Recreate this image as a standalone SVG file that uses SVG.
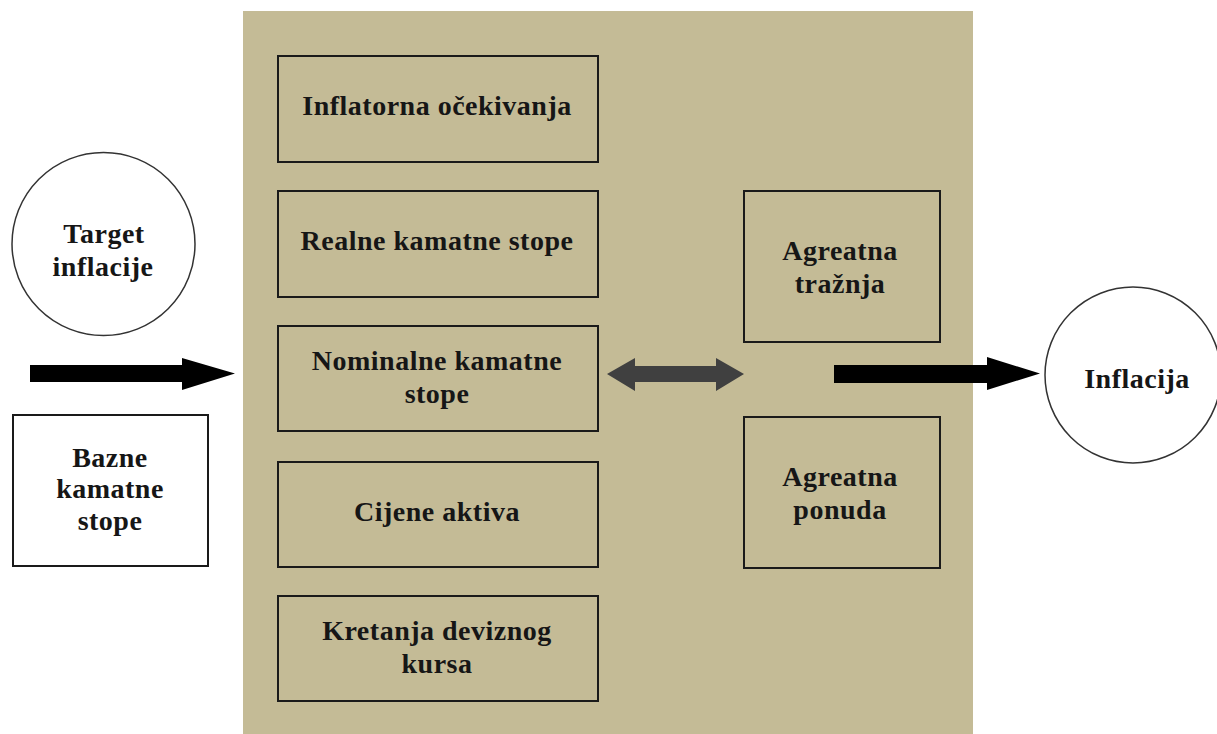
<svg xmlns="http://www.w3.org/2000/svg" width="1217" height="734" viewBox="0 0 1217 734">
<style>
.box{fill:none;stroke:#1a1a1a;stroke-width:2}
.wbox{fill:#fff;stroke:#1a1a1a;stroke-width:2}
.circ{fill:#fff;stroke:#333;stroke-width:1.5}
text{font-family:"Liberation Serif","Times New Roman",serif;font-weight:bold;font-size:28px;letter-spacing:0.5px;fill:#161616;text-anchor:middle}
</style>
<rect width="1217" height="734" fill="#fff"/>
<rect id="panel" x="243" y="11" width="730" height="723" fill="#c4bb96"/>
<g id="connectors">
<polygon points="30,365 182,365 182,358 235,373.5 182,390 182,382 30,382" fill="#000"/>
<polygon points="607,374 635,358 635,366 716,366 716,358 744,374 716,391 716,382 635,382 635,391" fill="#404040"/>
<polygon points="834,365 987,365 987,357 1040,373.5 987,390 987,383 834,383" fill="#000"/>
</g>
<g id="target"><circle class="circ" cx="103.5" cy="244" r="91.5"/><text x="104" y="243">Target</text><text x="103" y="276">inflacije</text></g>
<g id="bazne"><rect class="wbox" x="13" y="415" width="195" height="151"/><text x="110" y="467">Bazne</text><text x="110" y="498">kamatne</text><text x="110" y="530">stope</text></g>
<g id="inflatorna"><rect class="box" x="278" y="56" width="320" height="106"/><text x="437" y="115">Inflatorna očekivanja</text></g>
<g id="realne"><rect class="box" x="278" y="191" width="320" height="106"/><text x="437" y="250">Realne kamatne stope</text></g>
<g id="nominalne"><rect class="box" x="278" y="326" width="320" height="105"/><text x="437" y="370">Nominalne kamatne</text><text x="437" y="403">stope</text></g>
<g id="cijene"><rect class="box" x="278" y="462" width="320" height="105"/><text x="437" y="521">Cijene aktiva</text></g>
<g id="kretanja"><rect class="box" x="278" y="596" width="320" height="105"/><text x="437" y="640">Kretanja deviznog</text><text x="437" y="673">kursa</text></g>
<g id="traznja"><rect class="box" x="744" y="191" width="196" height="151"/><text x="840" y="260">Agreatna</text><text x="840" y="293">tražnja</text></g>
<g id="ponuda"><rect class="box" x="744" y="417" width="196" height="151"/><text x="840" y="486">Agreatna</text><text x="840" y="519">ponuda</text></g>
<g id="inflacija"><circle class="circ" cx="1133" cy="375" r="88"/><text x="1137" y="388">Inflacija</text></g>
</svg>
